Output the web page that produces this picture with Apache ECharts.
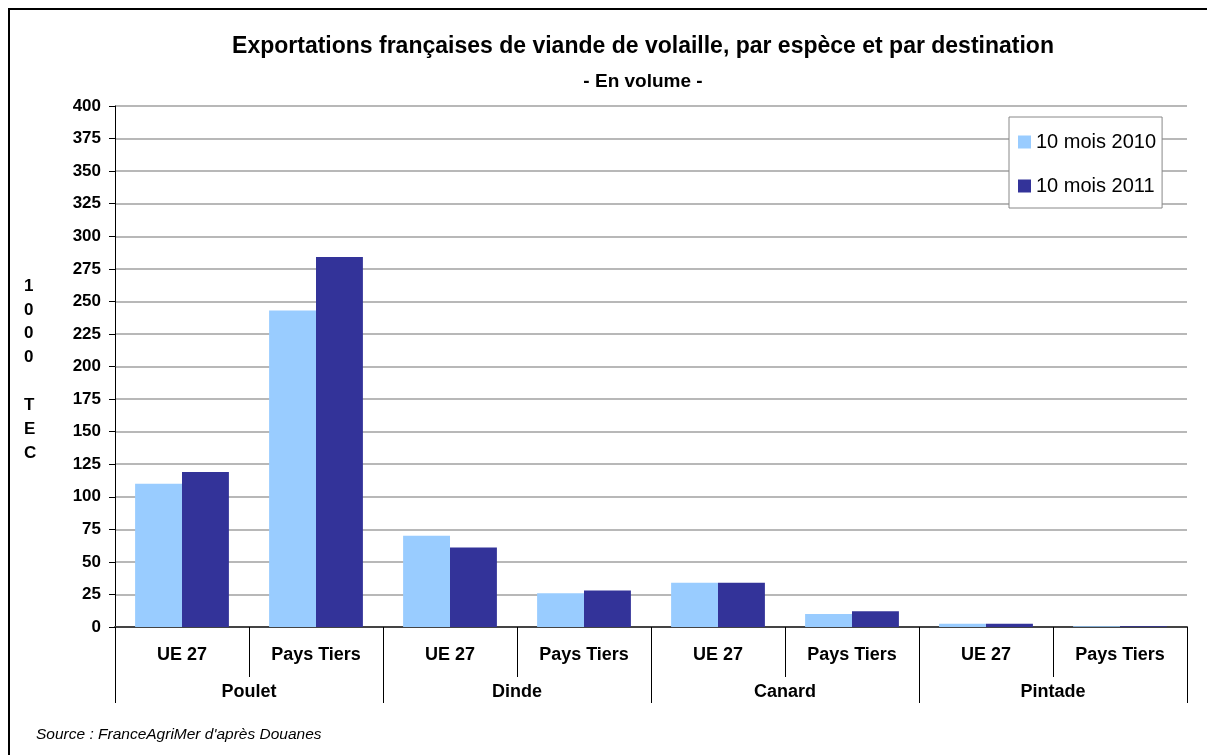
<!DOCTYPE html>
<html>
<head>
<meta charset="utf-8">
<script src="https://cdn.jsdelivr.net/npm/echarts@6/dist/echarts.min.js"></script>
<style>
  html, body { margin: 0; padding: 0; background: #fff; }
  #chart { width: 1207px; height: 755px; }
</style>
</head>
<body>
<div id="chart"></div>
<script>
  // data (1000 TEC)
  const destinations = ['UE 27', 'Pays Tiers', 'UE 27', 'Pays Tiers', 'UE 27', 'Pays Tiers', 'UE 27', 'Pays Tiers']
  const species = ['Poulet', 'Dinde', 'Canard', 'Pintade']
  const seriesNames = ['10 mois 2010', '10 mois 2011']
  const values2010 = [110, 243, 70, 26, 34, 10, 2.5, 0.5]
  const values2011 = [119, 284, 61, 28, 34, 12, 2.5, 0.5]
  const yTicks = [0, 25, 50, 75, 100, 125, 150, 175, 200, 225, 250, 275, 300, 325, 350, 375, 400]

  const font = '"Liberation Sans", Arial, sans-serif'
  const chart = echarts.init(document.getElementById('chart'))

  const option = {
    animation: false,
    color: ['#99CCFF', '#333399'],
    textStyle: { fontFamily: font },
    title: {
      text: 'Exportations françaises de viande de volaille, par espèce et par destination',
      subtext: '- En volume -',
      left: 638,
      textAlign: 'center',
      top: 30,
      itemGap: 14,
      textStyle: { fontFamily: font, fontSize: 23, fontWeight: 'bold', color: '#000' },
      subtextStyle: { fontFamily: font, fontSize: 19, fontWeight: 'bold', color: '#000' }
    },
    legend: {
      orient: 'vertical',
      left: 1009,
      top: 117,
      padding: [15, 6, 12, 9],
      itemGap: 24,
      itemWidth: 13,
      itemHeight: 13,
      icon: 'rect',
      backgroundColor: '#fff',
      borderColor: '#888',
      borderWidth: 1,
      textStyle: { fontFamily: font, fontSize: 20, color: '#000' },
      data: seriesNames
    },
    grid: { left: 115, right: 20, top: 106, bottom: 128 },
    xAxis: [
      {
        type: 'category',
        data: destinations,
        axisLine: { lineStyle: { color: '#444', width: 2 } },
        axisTick: { show: true, alignWithLabel: false, interval: 0, length: 50, lineStyle: { color: '#000', width: 1 } },
        axisLabel: { interval: 0, margin: 19, fontFamily: font, fontSize: 18, fontWeight: 'bold', color: '#000' }
      },
      {
        type: 'category',
        position: 'bottom',
        data: species,
        axisLine: { show: false },
        axisTick: { show: true, interval: 0, length: 76, lineStyle: { color: '#000', width: 1 } },
        axisLabel: { interval: 0, margin: 56, fontFamily: font, fontSize: 18, fontWeight: 'bold', color: '#000' }
      }
    ],
    yAxis: {
      type: 'value',
      min: 0,
      max: yTicks[yTicks.length - 1],
      interval: yTicks[1] - yTicks[0],
      axisLine: { show: true, lineStyle: { color: '#000', width: 1 } },
      axisTick: { show: true, length: 6, lineStyle: { color: '#000' } },
      axisLabel: { margin: 14, fontFamily: font, fontSize: 17, fontWeight: 'bold', color: '#000' },
      splitLine: { lineStyle: { color: '#a0a0a0', width: 1.5 } }
    },
    series: [
      {
        name: seriesNames[0],
        type: 'bar',
        data: values2010,
        barGap: '0%',
        barCategoryGap: '30%'
      },
      {
        name: seriesNames[1],
        type: 'bar',
        data: values2011,
        barGap: '0%',
        barCategoryGap: '30%'
      }
    ],
    graphic: [
      {
        type: 'rect',
        shape: { x: 9, y: 9, width: 1220, height: 770 },
        style: { fill: 'none', stroke: '#000', lineWidth: 2 },
        silent: true
      },
      {
        type: 'text',
        left: 24,
        top: 274,
        style: {
          text: '1\n0\n0\n0\n\nT\nE\nC',
          font: 'bold 17px ' + font,
          lineHeight: 23.9,
          fill: '#000'
        }
      },
      {
        type: 'text',
        left: 36,
        top: 727,
        style: {
          text: "Source : FranceAgriMer d'après Douanes",
          font: 'italic 15.5px ' + font,
          fill: '#000'
        }
      }
    ]
  }
  chart.setOption(option)
</script>
</body>
</html>
